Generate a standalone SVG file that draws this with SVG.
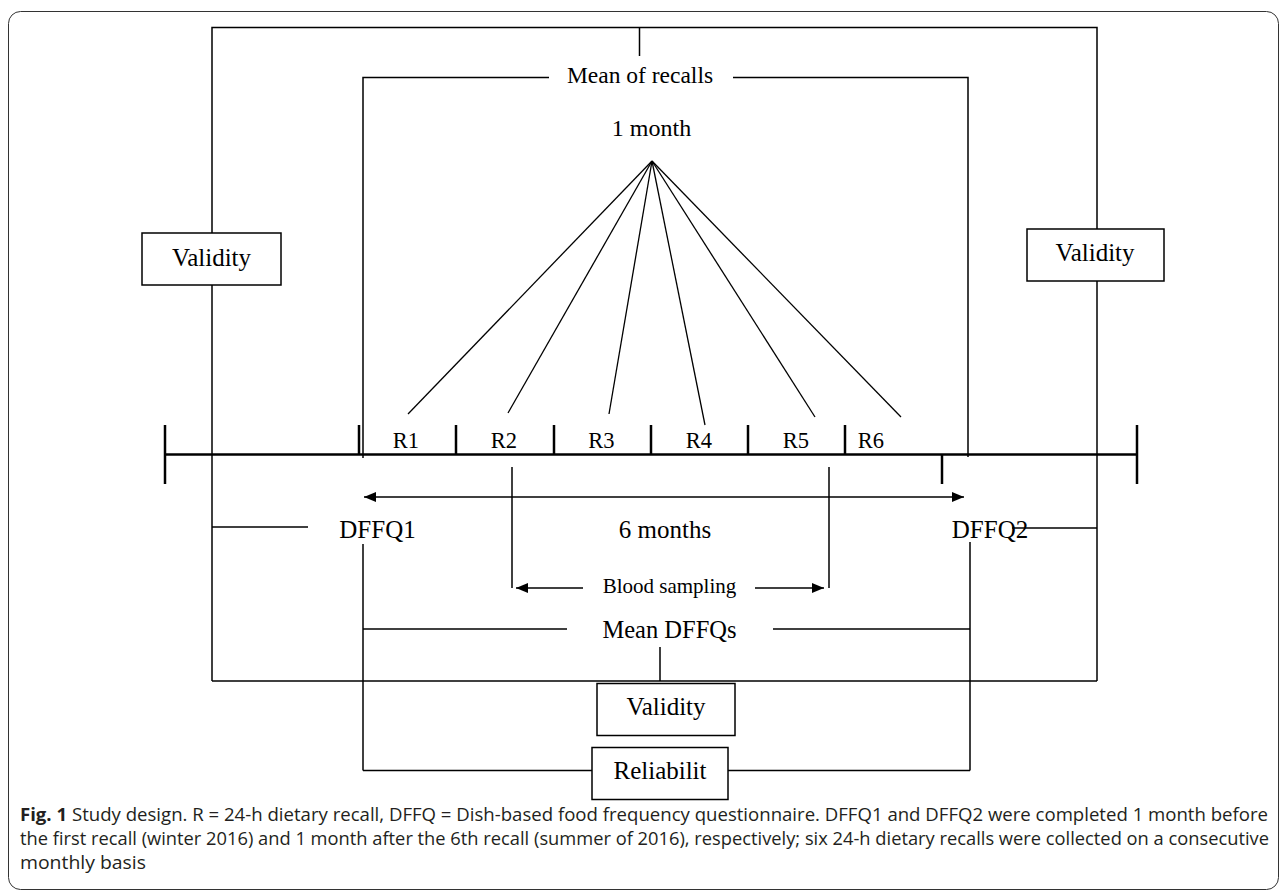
<svg xmlns="http://www.w3.org/2000/svg" width="1285" height="892" viewBox="0 0 1285 892">
<style>
.ln{stroke:#000;stroke-width:1.5;fill:none}
.tl{stroke:#000;stroke-width:2.5;fill:none}
.fan{stroke:#000;stroke-width:1.3;fill:none}
.box{fill:#fff;stroke:#000;stroke-width:1.5}
.t{font-family:"Liberation Serif","Times New Roman",serif;fill:#000;text-anchor:middle}
.cap{font-family:"Open Sans","Noto Sans","Liberation Sans",sans-serif;font-size:17.5px;fill:#231f20}
</style>
<defs>
<marker id="ah" viewBox="0 0 12 10" refX="12" refY="5" markerWidth="12" markerHeight="10" markerUnits="userSpaceOnUse" orient="auto-start-reverse">
<path d="M0,0 L12,5 L0,10 z" fill="#000"/>
</marker>
</defs>
<rect x="8.5" y="11.5" width="1270" height="878" rx="12" fill="none" stroke="#333" stroke-width="1"/>
<g id="connectors">
<polyline class="ln" points="212,233 212,27.5 1097,27.5 1097,229"/>
<line class="ln" x1="212" y1="285" x2="212" y2="681"/>
<line class="ln" x1="1097" y1="281" x2="1097" y2="681"/>
<line class="ln" x1="212" y1="681" x2="1097" y2="681"/>
<line class="ln" x1="639.5" y1="27.5" x2="639.5" y2="56"/>
<line class="ln" x1="660" y1="647" x2="660" y2="681"/>
<polyline class="ln" points="549,77.5 363,77.5 363,458"/>
<polyline class="ln" points="733,77.5 968,77.5 968,457"/>
<g class="fan">
<line x1="652" y1="161" x2="408" y2="414"/>
<line x1="652" y1="161" x2="508" y2="413"/>
<line x1="652" y1="161" x2="609" y2="414"/>
<line x1="652" y1="161" x2="705" y2="425"/>
<line x1="652" y1="161" x2="815" y2="417"/>
<line x1="652" y1="161" x2="901" y2="417"/>
</g>
<line class="tl" x1="165" y1="454.5" x2="1137" y2="454.5"/>
<line class="tl" x1="165" y1="425" x2="165" y2="484"/>
<line class="tl" x1="1137" y1="425" x2="1137" y2="484"/>
<line class="tl" x1="359" y1="425" x2="359" y2="454"/>
<line class="tl" x1="456" y1="425" x2="456" y2="454"/>
<line class="tl" x1="554" y1="425" x2="554" y2="454"/>
<line class="tl" x1="651" y1="425" x2="651" y2="454"/>
<line class="tl" x1="748" y1="425" x2="748" y2="454"/>
<line class="tl" x1="845" y1="425" x2="845" y2="454"/>
<line class="tl" x1="942" y1="454" x2="942" y2="484"/>
<line class="ln" x1="364" y1="497" x2="964" y2="497" marker-start="url(#ah)" marker-end="url(#ah)"/>
<line class="ln" x1="512" y1="467" x2="512" y2="588"/>
<line class="ln" x1="829" y1="467" x2="829" y2="588"/>
<line class="ln" x1="583" y1="588" x2="516" y2="588" marker-end="url(#ah)"/>
<line class="ln" x1="755" y1="588" x2="824" y2="588" marker-end="url(#ah)"/>
<line class="ln" x1="212" y1="527" x2="308" y2="527"/>
<line class="ln" x1="1012" y1="528" x2="1097" y2="528"/>
<line class="ln" x1="363" y1="544" x2="363" y2="770.5"/>
<line class="ln" x1="970" y1="542" x2="970" y2="770.5"/>
<line class="ln" x1="363" y1="629" x2="567" y2="629"/>
<line class="ln" x1="773" y1="629" x2="970" y2="629"/>
<line class="ln" x1="363" y1="770.5" x2="592" y2="770.5"/>
<line class="ln" x1="728" y1="770.5" x2="970" y2="770.5"/>
</g>
<g id="mean-recalls"><text class="t" x="640" y="82.5" font-size="23.5">Mean of recalls</text></g>
<g id="one-month"><text class="t" x="651.5" y="136" font-size="24">1 month</text></g>
<g id="validity-left"><rect class="box" x="142" y="233" width="139" height="52"/><text class="t" x="211.5" y="266" font-size="25">Validity</text></g>
<g id="validity-right"><rect class="box" x="1027" y="229" width="137" height="52"/><text class="t" x="1095" y="261" font-size="25">Validity</text></g>
<g id="recalls">
<text class="t" x="406" y="448" font-size="22.5">R1</text>
<text class="t" x="504" y="448" font-size="22.5">R2</text>
<text class="t" x="601.5" y="448" font-size="22.5">R3</text>
<text class="t" x="699" y="448" font-size="22.5">R4</text>
<text class="t" x="796" y="448" font-size="22.5">R5</text>
<text class="t" x="871" y="448" font-size="22.5">R6</text>
</g>
<g id="dffq1"><text class="t" x="377.5" y="537.5" font-size="25">DFFQ1</text></g>
<g id="six-months"><text class="t" x="665" y="537.5" font-size="25">6 months</text></g>
<g id="dffq2"><text class="t" x="990" y="538" font-size="25">DFFQ2</text></g>
<g id="blood-sampling"><text class="t" x="669.5" y="592.5" font-size="21">Blood sampling</text></g>
<g id="mean-dffqs"><text class="t" x="669.5" y="637.5" font-size="24.5">Mean DFFQs</text></g>
<g id="validity-bottom"><rect class="box" x="597" y="683.5" width="138" height="52"/><text class="t" x="666" y="715" font-size="25">Validity</text></g>
<g id="reliability"><rect class="box" x="592" y="747.5" width="136" height="52"/><text class="t" x="660" y="778.5" font-size="25">Reliabilit</text></g>
<g id="caption">
<text class="cap" x="20" y="821" textLength="1248" lengthAdjust="spacingAndGlyphs"><tspan font-weight="bold">Fig. 1</tspan>  Study design. R = 24-h dietary recall, DFFQ = Dish-based food frequency questionnaire. DFFQ1 and DFFQ2 were completed 1 month before</text>
<text class="cap" x="20" y="845" textLength="1249" lengthAdjust="spacingAndGlyphs">the first recall (winter 2016) and 1 month after the 6th recall (summer of 2016), respectively; six 24-h dietary recalls were collected on a consecutive</text>
<text class="cap" x="20" y="869" textLength="126" lengthAdjust="spacingAndGlyphs">monthly basis</text>
</g>
</svg>
